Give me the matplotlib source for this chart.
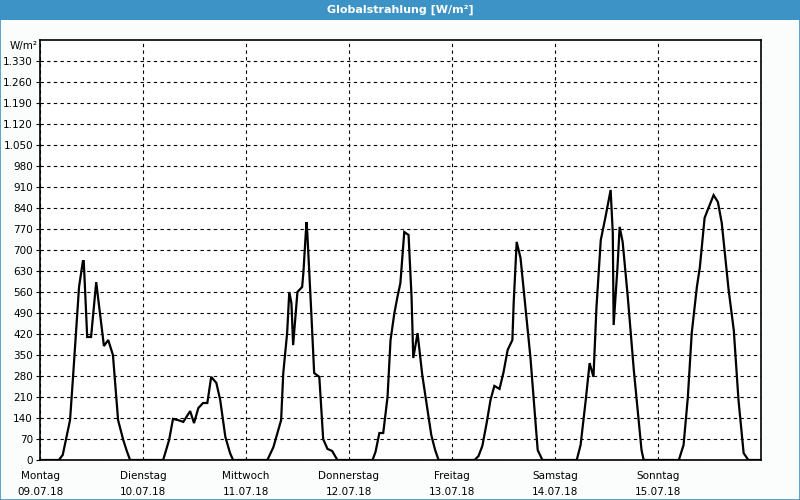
import numpy as np
import matplotlib.pyplot as plt
from matplotlib.ticker import FuncFormatter

# ---- data (hours since Monday 00:00, W/m²) ----
hours = [0, 4.4, 5.3, 7.0, 7.7, 9.1, 10.0, 10.2, 11.0, 11.9, 13.1, 14.9, 15.9, 17.0, 18.2, 19.4, 20.3, 21.0,
         28.7, 30.1, 31.0, 32.2, 33.4, 35.0, 35.9, 36.9, 38.0, 39.0, 39.9, 41.1, 42.0, 43.2, 44.3, 45.0,
         53.0, 54.4, 56.2, 56.7, 57.6, 58.1, 58.6, 59.0, 60.0, 61.1, 61.4, 62.1, 62.3, 63.2, 63.9,
         65.1, 66.0, 67.0, 68.1, 69.3,
         77.5, 78.2, 79.1, 80.0, 81.0, 81.7, 82.6, 83.3, 84.0, 84.9, 85.9, 86.6, 87.0, 88.0, 89.1,
         91.2, 92.1, 92.9,
         101.3, 102.2, 103.1, 104.1, 105.0, 105.9, 107.1, 108.0, 109.0, 110.1, 110.4, 111.1, 112.0, 114.3,
         116.0, 117.1,
         125.1, 126.0, 127.2, 128.1, 129.0, 129.7, 130.7, 131.8, 133.0, 133.5, 133.7, 134.6, 135.1,
         135.8, 137.0, 138.4, 140.2, 140.7,
         148.9, 150.0, 151.0, 151.9, 153.1, 153.8, 154.9, 155.8, 157.0, 158.0, 158.9, 160.5, 161.7,
         162.8, 164.0, 165.1, 168.0]
values = [0, 0, 17, 133, 277, 577, 663, 663, 410, 410, 593, 380, 400, 350, 133, 67, 27, 0,
          0, 67, 137, 133, 127, 163, 123, 173, 190, 190, 277, 257, 200, 77, 23, 0,
          0, 43, 133, 290, 423, 560, 523, 383, 560, 577, 627, 793, 757, 500, 290,
          277, 70, 37, 30, 0,
          0, 27, 90, 90, 210, 400, 490, 543, 590, 760, 750, 543, 340, 423, 283,
          83, 33, 0,
          0, 13, 47, 123, 200, 247, 237, 290, 367, 400, 523, 727, 673, 343,
          33, 0,
          0, 50, 200, 323, 277, 510, 733, 810, 900, 757, 450, 643, 777,
          727, 543, 300, 33, 0,
          0, 50, 210, 423, 577, 643, 807, 840, 883, 860, 790, 567, 433,
          200, 23, 0, 0]

day_names = ["Montag", "Dienstag", "Mittwoch", "Donnerstag", "Freitag", "Samstag", "Sonntag"]
day_dates = ["09.07.18", "10.07.18", "11.07.18", "12.07.18", "13.07.18", "14.07.18", "15.07.18"]

# ---- figure ----
fig = plt.figure(figsize=(8, 5), dpi=100, facecolor="#fbfdfc")
plt.rcParams['font.family'] = ['DejaVu Sans']

# title bar
fig.patches.append(plt.Rectangle((0, 0.96), 1, 0.04, transform=fig.transFigure,
                                 facecolor="#3d93c5", edgecolor="none", zorder=0))
fig.patches.append(plt.Rectangle((0.0006, 0.001), 0.9988, 0.998, transform=fig.transFigure,
                                 facecolor="none", edgecolor="#3d93c5", linewidth=1.2, zorder=5))
fig.text(0.5, 0.98, "Globalstrahlung [W/m²]", color="white", fontsize=8, fontweight="bold",
         ha="center", va="center")

ax = fig.add_axes([0.05, 0.08, 0.901, 0.84])
ax.set_facecolor("white")
ax.plot(hours, values, color="black", linewidth=1.6, solid_joinstyle="miter")

ax.set_xlim(0, 168)
ax.set_ylim(0, 1400)
ax.set_yticks(np.arange(0, 1331, 70))
ax.yaxis.set_major_formatter(FuncFormatter(lambda v, p: f"{int(v):,}".replace(",", ".")))
ax.set_xticks(np.arange(0, 168, 24))
ax.set_xticklabels([f"{n}\n{d}" for n, d in zip(day_names, day_dates)], linespacing=1.7)

ax.tick_params(axis="y", length=3, labelsize=7.5, pad=2)
ax.tick_params(axis="x", length=0, labelsize=7.5, pad=8)
ax.grid(True, color="black", linestyle=(0, (3, 3)), linewidth=0.8)
for s in ax.spines.values():
    s.set_color("black")
    s.set_linewidth(1.2)

fig.text(0.012, 0.908, "W/m²", fontsize=7.5, ha="left", va="center")

fig.savefig("out.png", dpi=100, facecolor=fig.get_facecolor())
